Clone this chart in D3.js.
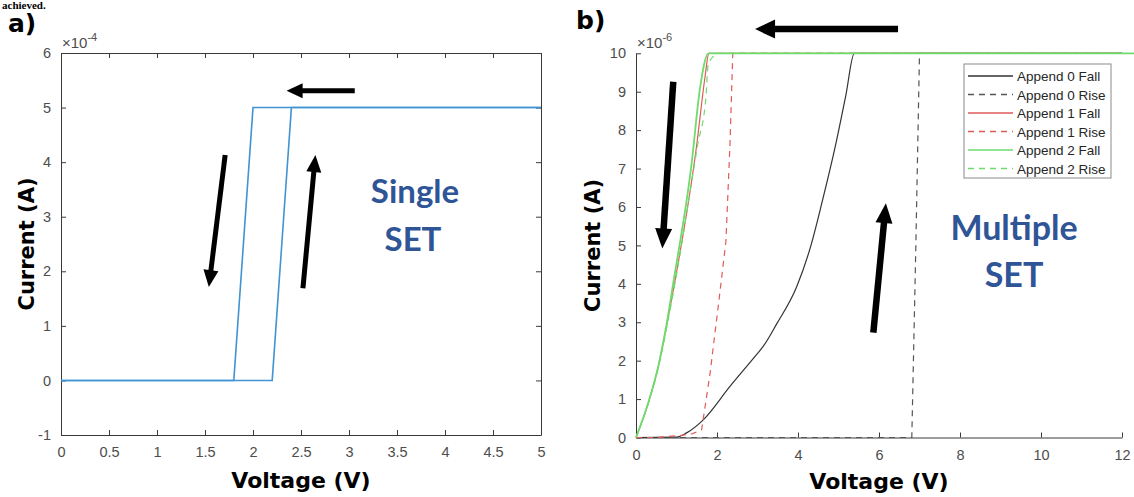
<!DOCTYPE html>
<html>
<head>
<meta charset="utf-8">
<script src="https://cdn.jsdelivr.net/npm/d3@7"></script>
<style>
  html, body { margin: 0; padding: 0; background: #fff; }
  svg { display: block; }
  .tick text { font-family: "Liberation Sans", Arial, sans-serif; font-size: 14.5px; fill: #4d4d4d; }
</style>
</head>
<body>
<svg id="fig" width="1134" height="497"></svg>
<script>
// ---------- Panel (a): single SET sweep, current in units of 1e-4 A ----------
const aRiseV = [0, 2.2, 2.4, 5];
const aRiseI = [0, 0, 5, 5];
const aFallV = [5, 2.0, 1.8, 0];
const aFallI = [5, 5, 0, 0];
const aXTicks = [0, 0.5, 1, 1.5, 2, 2.5, 3, 3.5, 4, 4.5, 5];
const aYTicks = [-1, 0, 1, 2, 3, 4, 5, 6];

// ---------- Panel (b): multiple SET sweeps, current in units of 1e-6 A ----------
const append0FallV = [0, 1.0, 1.25, 1.66, 2.32, 2.97, 3.14, 3.47, 3.97, 4.32, 4.6, 4.93, 5.18, 5.39, 12];
const append0FallI = [0, 0.01, 0.12, 0.46, 1.33, 2.15, 2.37, 2.95, 3.93, 5.0, 6.15, 7.62, 8.9, 10, 10];
const append0RiseV = [0, 6.81, 6.91, 7.0, 12];
const append0RiseI = [0, 0, 5, 10, 10];
const append1FallV = [0, 0.3, 0.55, 0.77, 0.95, 1.5, 1.7, 1.8, 12];
const append1FallI = [0, 0.88, 1.85, 2.98, 4.0, 7.62, 9.35, 10, 10];
const append1RiseV = [0, 0.5, 1.08, 1.4, 1.62, 1.83, 2.03, 2.22, 2.32, 2.39, 12];
const append1RiseI = [0, 0, 0.05, 0.1, 0.2, 1.68, 3.41, 5.1, 7.62, 10, 10];
const append2FallV = [0, 0.3, 0.55, 0.76, 0.92, 1.37, 1.58, 1.79, 12.3];
const append2FallI = [0, 0.9, 1.85, 2.98, 4.02, 7.1, 9.09, 10, 10];
const append2RiseV = [0, 0.3, 0.56, 0.78, 0.96, 1.52, 1.73, 1.78, 1.92, 2.0, 12];
const append2RiseI = [0, 0.88, 1.85, 2.98, 4.0, 7.6, 8.9, 9.7, 9.93, 10, 10];
const bXTicks = [0, 2, 4, 6, 8, 10, 12];
const bYTicks = [0, 1, 2, 3, 4, 5, 6, 7, 8, 9, 10];

const seriesNames = ["Append 0 Fall", "Append 0 Rise", "Append 1 Fall", "Append 1 Rise", "Append 2 Fall", "Append 2 Rise"];

const svg = d3.select("#fig");
const axisColor = "#3a3a3a";
const zip = (xs, ys) => xs.map((x, i) => [x, ys[i]]);
const plain = d => String(d);

// Thick black direction arrow, given in data coordinates
function arrow(g, x, y, from, to, w, headW, headL) {
  const x0 = x(from[0]), y0 = y(from[1]), x1 = x(to[0]), y1 = y(to[1]);
  const dx = x1 - x0, dy = y1 - y0, len = Math.hypot(dx, dy);
  const ux = dx / len, uy = dy / len, px = -uy, py = ux;
  const bx = x1 - ux * headL, by = y1 - uy * headL;
  g.append("line").attr("x1", x0).attr("y1", y0).attr("x2", bx + ux).attr("y2", by + uy)
    .attr("stroke", "#000").attr("stroke-width", w);
  g.append("path")
    .attr("d", `M${x1},${y1}L${bx + px * headW / 2},${by + py * headW / 2}L${bx - px * headW / 2},${by - py * headW / 2}Z`)
    .attr("fill", "#000");
}

function styleAxis(g) {
  g.selectAll(".domain").attr("stroke", axisColor);
  g.selectAll(".tick line").attr("stroke", axisColor);
}

// ================= Panel (a) =================
const ax = d3.scaleLinear().domain([0, 5]).range([61, 541]);
const ay = d3.scaleLinear().domain([-1, 6]).range([435, 53]);
const ga = svg.append("g");

ga.append("g").attr("transform", `translate(0,${ay(-1)})`)
  .call(d3.axisBottom(ax).tickValues(aXTicks).tickFormat(plain).tickSizeInner(-5).tickSizeOuter(0).tickPadding(12))
  .call(styleAxis);
ga.append("g").attr("transform", `translate(0,${ay(6)})`)
  .call(d3.axisTop(ax).tickValues(aXTicks).tickFormat("").tickSizeInner(-5).tickSizeOuter(0))
  .call(styleAxis);
ga.append("g").attr("transform", `translate(${ax(0)},0)`)
  .call(d3.axisLeft(ay).tickValues(aYTicks).tickFormat(plain).tickSizeInner(-5).tickSizeOuter(0).tickPadding(10))
  .call(styleAxis);
ga.append("g").attr("transform", `translate(${ax(5)},0)`)
  .call(d3.axisRight(ay).tickValues(aYTicks).tickFormat("").tickSizeInner(-5).tickSizeOuter(0))
  .call(styleAxis);

const aLine = d3.line().x(d => ax(d[0])).y(d => ay(d[1]));
[zip(aRiseV, aRiseI), zip(aFallV, aFallI)].forEach(pts => {
  ga.append("path").attr("d", aLine(pts)).attr("fill", "none")
    .attr("stroke", "#4094d4").attr("stroke-width", 1.6);
});

const expA = ga.append("text").attr("x", ax(0) + 1).attr("y", ay(6) - 5)
  .attr("font-family", "Liberation Sans, Arial, sans-serif").attr("font-size", 15).attr("fill", "#4d4d4d");
expA.append("tspan").text("\u00d710");
expA.append("tspan").attr("dy", -7).attr("font-size", 11).text("-4");

arrow(ga, ax, ay, [3.06, 5.31], [2.35, 5.31], 5, 15, 16);
arrow(ga, ax, ay, [1.71, 4.13], [1.54, 1.71], 5, 15, 17);
arrow(ga, ax, ay, [2.52, 1.69], [2.65, 4.13], 5, 15, 17);

ga.append("text").attr("x", 8).attr("y", 32).text("a)")
  .attr("font-family", "DejaVu Sans, sans-serif").attr("font-weight", "bold").attr("font-size", 25).attr("fill", "#000");
ga.append("text").attr("transform", `translate(34,${(ay(-1) + ay(6)) / 2}) rotate(-90)`)
  .attr("text-anchor", "middle").text("Current (A)")
  .attr("font-family", "DejaVu Sans, sans-serif").attr("font-weight", "bold").attr("font-size", 21).attr("fill", "#000");
ga.append("text").attr("x", (ax(0) + ax(5)) / 2).attr("y", 488).attr("text-anchor", "middle").text("Voltage (V)")
  .attr("font-family", "DejaVu Sans, sans-serif").attr("font-weight", "bold").attr("font-size", 22).attr("fill", "#000");

const blueText = "#2f5597";
ga.append("text").attr("x", 415).attr("y", 203).attr("text-anchor", "middle").text("Single")
  .attr("font-family", "Lato, sans-serif").attr("font-weight", "bold").attr("font-size", 33).attr("fill", blueText);
ga.append("text").attr("x", 413).attr("y", 251).attr("text-anchor", "middle").text("SET")
  .attr("font-family", "Lato, sans-serif").attr("font-weight", "bold").attr("font-size", 33).attr("fill", blueText);

// ================= Panel (b) =================
const bx = d3.scaleLinear().domain([0, 12]).range([636, 1122]);
const by = d3.scaleLinear().domain([0, 10]).range([437.5, 53.3]);
const gb = svg.append("g");

gb.append("g").attr("transform", `translate(0,${by(0)})`)
  .call(d3.axisBottom(bx).tickValues(bXTicks).tickFormat(plain).tickSizeInner(-5).tickSizeOuter(0).tickPadding(12))
  .call(styleAxis);
gb.append("g").attr("transform", `translate(${bx(0)},0)`)
  .call(d3.axisLeft(by).tickValues(bYTicks).tickFormat(plain).tickSizeInner(-5).tickSizeOuter(0).tickPadding(10))
  .call(styleAxis);

const expB = gb.append("text").attr("x", bx(0) + 1).attr("y", by(10) - 5)
  .attr("font-family", "Liberation Sans, Arial, sans-serif").attr("font-size", 15).attr("fill", "#4d4d4d");
expB.append("tspan").text("\u00d710");
expB.append("tspan").attr("dy", -7).attr("font-size", 11).text("-6");

const colors = ["#333333", "#555555", "#e05a5a", "#e05a5a", "#6ddc6d", "#6ddc6d"];
const dashes = [null, "6,5", null, "6,5", null, "6,5"];
const series = [
  zip(append0FallV, append0FallI),
  zip(append0RiseV, append0RiseI),
  zip(append1FallV, append1FallI),
  zip(append1RiseV, append1RiseI),
  zip(append2FallV, append2FallI),
  zip(append2RiseV, append2RiseI)
];
// Measured sweeps are smoothed; the compliance steps keep straight segments
const curved = [true, false, true, false, true, true];
const drawOrder = [0, 1, 3, 2, 5, 4];
drawOrder.forEach(i => {
  const gen = d3.line().x(d => bx(d[0])).y(d => by(d[1]))
    .curve(curved[i] ? d3.curveMonotoneX : d3.curveLinear);
  gb.append("path").attr("d", gen(series[i])).attr("fill", "none")
    .attr("stroke", colors[i]).attr("stroke-width", i === 4 ? 1.8 : 1.2)
    .attr("stroke-dasharray", dashes[i]);
});

// Legend
const lg = gb.append("g").attr("transform", "translate(964,64)");
lg.append("rect").attr("width", 147).attr("height", 114).attr("fill", "#fff").attr("stroke", "#8a8a8a").attr("stroke-width", 1);
seriesNames.forEach((name, i) => {
  const yy = 12 + i * 18.5;
  lg.append("line").attr("x1", 4).attr("x2", 49).attr("y1", yy).attr("y2", yy)
    .attr("stroke", colors[i]).attr("stroke-width", 1.3).attr("stroke-dasharray", dashes[i]);
  lg.append("text").attr("x", 53).attr("y", yy + 5).text(name)
    .attr("font-family", "Liberation Sans, Arial, sans-serif").attr("font-size", 13.5).attr("fill", "#262626");
});

arrow(gb, bx, by, [6.47, 10.63], [2.94, 10.63], 6.5, 19, 20);
arrow(gb, bx, by, [0.92, 9.26], [0.65, 4.92], 6.5, 17, 20);
arrow(gb, bx, by, [5.86, 2.73], [6.17, 6.1], 6.5, 17, 20);

gb.append("text").attr("x", 576).attr("y", 29).text("b)")
  .attr("font-family", "DejaVu Sans, sans-serif").attr("font-weight", "bold").attr("font-size", 25).attr("fill", "#000");
gb.append("text").attr("transform", `translate(600,${(by(0) + by(10)) / 2}) rotate(-90)`)
  .attr("text-anchor", "middle").text("Current (A)")
  .attr("font-family", "DejaVu Sans, sans-serif").attr("font-weight", "bold").attr("font-size", 21).attr("fill", "#000");
gb.append("text").attr("x", (bx(0) + bx(12)) / 2).attr("y", 489).attr("text-anchor", "middle").text("Voltage (V)")
  .attr("font-family", "DejaVu Sans, sans-serif").attr("font-weight", "bold").attr("font-size", 22).attr("fill", "#000");

gb.append("text").attr("x", 1014).attr("y", 240).attr("text-anchor", "middle").text("Multiple")
  .attr("font-family", "Lato, sans-serif").attr("font-weight", "bold").attr("font-size", 34).attr("fill", blueText);
gb.append("text").attr("x", 1014).attr("y", 287).attr("text-anchor", "middle").text("SET")
  .attr("font-family", "Lato, sans-serif").attr("font-weight", "bold").attr("font-size", 34).attr("fill", blueText);

// Tail of the preceding paragraph
svg.append("text").attr("x", 2).attr("y", 9).text("achieved.")
  .attr("font-family", "Liberation Serif, serif").attr("font-weight", "bold").attr("font-size", 11).attr("fill", "#000");
</script>
</body>
</html>
